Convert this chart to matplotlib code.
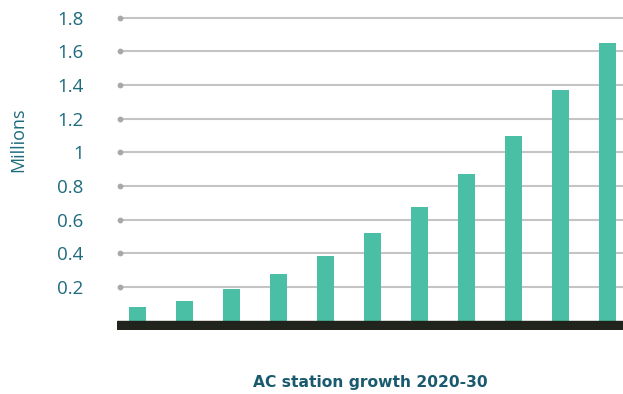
import matplotlib
matplotlib.use("Agg")
import matplotlib.pyplot as plt

years = [2020, 2021, 2022, 2023, 2024, 2025, 2026, 2027, 2028, 2029, 2030]
stations_m = [0.08, 0.117, 0.188, 0.277, 0.384, 0.52, 0.675, 0.87, 1.10, 1.37, 1.65]
ytick_vals = [0.2, 0.4, 0.6, 0.8, 1.0, 1.2, 1.4, 1.6, 1.8]
ytick_labels = ["0.2", "0.4", "0.6", "0.8", "1", "1.2", "1.4", "1.6", "1.8"]
title = "AC station growth 2020-30"
ylabel = "Millions"

W, H = 623, 394
fig = plt.figure(figsize=(W / 100, H / 100), dpi=100)
ax = fig.add_axes([117 / W, 64 / H, (W - 117) / W, 320 / H])

x = list(range(len(years)))
bar_color = "#4bbfa5"
text_color = "#1d6b7d"

ax.set_xlim(-0.436, 10.33)
ax.set_ylim(-0.056, 1.846)

# gridlines with dot at the left end
gx0 = -0.372
ax.hlines(ytick_vals, gx0, 10.33, colors="#c4c4c4", linewidth=1.5, zorder=1)
ax.scatter([gx0] * len(ytick_vals), ytick_vals, s=10, color="#a8a8a8", zorder=2, clip_on=False)

ax.bar(x, stations_m, width=0.362, color=bar_color, zorder=3)
ax.axhspan(-0.056, 0, color="#20241c", zorder=4)

for s in ax.spines.values():
    s.set_visible(False)
ax.set_xticks([])
ax.set_yticks(ytick_vals)
ax.set_yticklabels(ytick_labels, fontfamily="Open Sans", fontsize=13.5, color=text_color)
ax.tick_params(axis="y", length=0, pad=24)

fig.text(18 / W, 1 - 140 / H, ylabel, rotation=90, ha="center", va="center",
         fontfamily="Open Sans", fontsize=13, color=text_color)
fig.text(370 / W, 1 - 383 / H, title, ha="center", va="center",
         fontfamily="DejaVu Sans", fontweight="bold", fontsize=11.2, color="#1a5a6e")

fig.savefig("out.png", dpi=100)
